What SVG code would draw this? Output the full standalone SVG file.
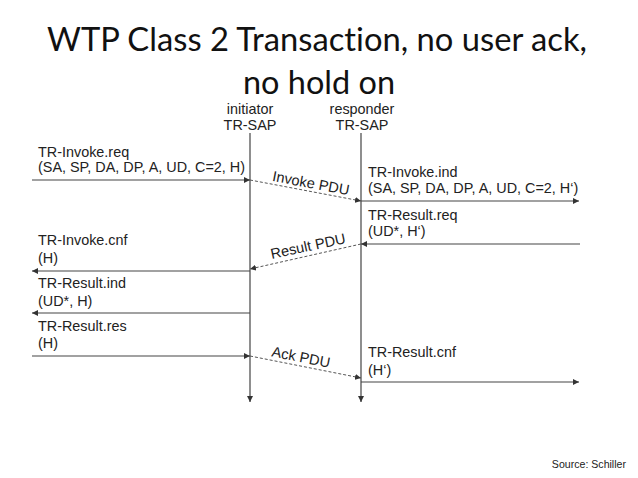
<svg xmlns="http://www.w3.org/2000/svg" width="638" height="478" viewBox="0 0 638 478">
  <defs>
    <marker id="arr" viewBox="0 0 10 10" refX="10" refY="5" markerWidth="6" markerHeight="6" markerUnits="userSpaceOnUse" orient="auto">
      <path d="M0,0 L10,5 L0,10 Z" fill="#333"/>
    </marker>
    <style>
      .title { font-family: Lato, "Open Sans", sans-serif; font-size: 32px; fill: #111; text-anchor: middle; font-variant-ligatures: none; }
      .lbl { font-family: "Liberation Sans", Arial, sans-serif; font-size: 14.4px; fill: #222; }
      .sap { font-family: "Liberation Sans", Arial, sans-serif; font-size: 14.4px; fill: #222; text-anchor: middle; }
      .pdu { font-family: "Liberation Sans", Arial, sans-serif; font-size: 14.6px; fill: #222; text-anchor: middle; }
      .src { font-family: "Liberation Sans", Arial, sans-serif; font-size: 10.6px; fill: #222; text-anchor: end; }
      .life { stroke: #444; stroke-width: 1.2; fill: none; marker-end: url(#arr); }
      .msg { stroke: #444; stroke-width: 1.2; fill: none; marker-end: url(#arr); }
      .pdul { stroke: #555; stroke-width: 1; stroke-dasharray: 3 2; fill: none; marker-end: url(#arr); }
    </style>
  </defs>

  <rect width="638" height="478" fill="#fff"/>

  <!-- Title -->
  <g id="title">
    <text class="title" x="317" y="51" textLength="540" lengthAdjust="spacingAndGlyphs">WTP Class 2 Transaction, no user ack,</text>
    <text class="title" x="319" y="94" textLength="152" lengthAdjust="spacingAndGlyphs">no hold on</text>
  </g>

  <!-- Service access points -->
  <g id="initiator">
    <text class="sap" x="250" y="114">initiator</text>
    <text class="sap" x="250" y="130">TR-SAP</text>
  </g>
  <g id="responder">
    <text class="sap" x="362" y="114">responder</text>
    <text class="sap" x="362" y="130">TR-SAP</text>
  </g>

  <!-- Primitive labels -->
  <g id="invoke-req">
    <text class="lbl" x="38" y="157">TR-Invoke.req</text>
    <text class="lbl" x="38" y="172">(SA, SP, DA, DP, A, UD, C=2, H)</text>
  </g>
  <g id="invoke-ind">
    <text class="lbl" x="368" y="177">TR-Invoke.ind</text>
    <text class="lbl" x="368" y="193">(SA, SP, DA, DP, A, UD, C=2, H‘)</text>
  </g>
  <g id="result-req">
    <text class="lbl" x="368" y="220">TR-Result.req</text>
    <text class="lbl" x="368" y="236">(UD*, H‘)</text>
  </g>
  <g id="invoke-cnf">
    <text class="lbl" x="38" y="245">TR-Invoke.cnf</text>
    <text class="lbl" x="38" y="263">(H)</text>
  </g>
  <g id="result-ind">
    <text class="lbl" x="38" y="288">TR-Result.ind</text>
    <text class="lbl" x="38" y="306">(UD*, H)</text>
  </g>
  <g id="result-res">
    <text class="lbl" x="38" y="331">TR-Result.res</text>
    <text class="lbl" x="38" y="348">(H)</text>
  </g>
  <g id="result-cnf">
    <text class="lbl" x="368" y="357">TR-Result.cnf</text>
    <text class="lbl" x="368" y="375">(H‘)</text>
  </g>

  <!-- PDU labels -->
  <g id="invoke-pdu">
    <text class="pdu" transform="translate(310,188) rotate(10.7)">Invoke PDU</text>
  </g>
  <g id="result-pdu">
    <text class="pdu" transform="translate(309,251) rotate(-12)">Result PDU</text>
  </g>
  <g id="ack-pdu">
    <text class="pdu" transform="translate(300,362) rotate(11)">Ack PDU</text>
  </g>

  <!-- Connectors -->
  <g id="connectors">
    <line class="life" x1="250" y1="133" x2="250" y2="402"/>
    <line class="life" x1="361" y1="133" x2="361" y2="402"/>

    <line class="msg" x1="32" y1="180" x2="250" y2="180"/>
    <line class="pdul" x1="250" y1="180" x2="361" y2="201"/>
    <line class="msg" x1="361" y1="201" x2="579" y2="201"/>

    <line class="msg" x1="580" y1="244" x2="361" y2="244"/>
    <line class="pdul" x1="361" y1="244" x2="250" y2="269"/>
    <line class="msg" x1="250" y1="271" x2="32" y2="271"/>

    <line class="msg" x1="250" y1="313" x2="32" y2="313"/>

    <line class="msg" x1="32" y1="356" x2="250" y2="356"/>
    <line class="pdul" x1="250" y1="356" x2="361" y2="378"/>
    <line class="msg" x1="361" y1="382" x2="579" y2="382"/>
  </g>

  <g id="source">
    <text class="src" x="626" y="468">Source: Schiller</text>
  </g>
</svg>
